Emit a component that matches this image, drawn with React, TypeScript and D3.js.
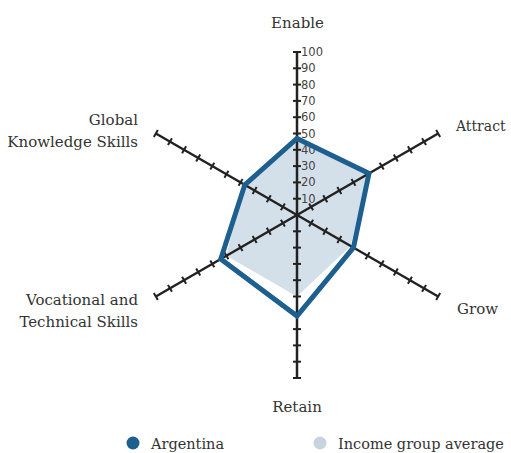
import * as d3 from "d3";
import React, { useEffect, useRef } from "react";

const axesNames = ["Enable", "Attract", "Grow", "Retain", "Vocational and\nTechnical Skills", "Global\nKnowledge Skills"];
const argentina = [47, 51, 40, 62, 54, 37];
const incomeAvg = [49, 50, 38, 50, 50, 38];
const tickValues = [10, 20, 30, 40, 50, 60, 70, 80, 90, 100];
const legendItems = ["Argentina", "Income group average"];

const App = () => {
  const svgRef = useRef<SVGSVGElement>(null);

  useEffect(() => {
    const w = 511;
    const h = 453;
    const cx = 297;
    const cy = 215;
    const R = 163;
    const blue = "#1d5f8e";
    const light = "#d3dfe9";

    const svg = d3.select(svgRef.current).attr("width", w).attr("height", h);
    svg.selectAll("*").remove();

    const r = d3.scaleLinear().domain([0, 100]).range([0, R]);
    const angle = (i: number) => -Math.PI / 2 + (i * Math.PI) / 3;
    const pt = (i: number, v: number): [number, number] => [
      cx + r(v) * Math.cos(angle(i)),
      cy + r(v) * Math.sin(angle(i)),
    ];

    const line = d3.line<[number, number]>().curve(d3.curveLinearClosed);

    // income group polygon
    svg.append("path")
      .attr("d", line(incomeAvg.map((v, i) => pt(i, v))))
      .attr("fill", light)
      .attr("stroke", "none");

    // axes
    const g = svg.append("g");
    axesNames.forEach((_, i) => {
      const [x2, y2] = pt(i, 100);
      g.append("line")
        .attr("x1", cx).attr("y1", cy).attr("x2", x2).attr("y2", y2)
        .attr("stroke", "#222").attr("stroke-width", 2.5);
      const a = angle(i);
      const px = -Math.sin(a), py = Math.cos(a);
      tickValues.forEach(t => {
        const [x, y] = pt(i, t);
        g.append("line")
          .attr("x1", x - px * 4).attr("y1", y - py * 4)
          .attr("x2", x + px * 4).attr("y2", y + py * 4)
          .attr("stroke", "#222").attr("stroke-width", 2);
      });
    });

    // tick labels on Enable axis
    tickValues.forEach(t => {
      const [x, y] = pt(0, t);
      svg.append("text")
        .attr("x", x + 4).attr("y", y + 4)
        .attr("font-family", "DejaVu Sans")
        .attr("font-size", 11.5)
        .attr("fill", "#444")
        .text(t);
    });

    // Argentina outline
    svg.append("path")
      .attr("d", line(argentina.map((v, i) => pt(i, v))))
      .attr("fill", "none")
      .attr("stroke", blue)
      .attr("stroke-width", 5)
      .attr("stroke-linejoin", "miter");

    // axis names
    const labelPos = [
      { x: 297.5, y: 28, anchor: "middle", size: 15 },
      { x: 456, y: 131, anchor: "start", size: 14 },
      { x: 457, y: 314, anchor: "start", size: 15 },
      { x: 297, y: 412, anchor: "middle", size: 15 },
      { x: 138, y: 305, anchor: "end", size: 15 },
      { x: 138, y: 125, anchor: "end", size: 15 },
    ];
    axesNames.forEach((name, i) => {
      const t = svg.append("text")
        .attr("x", labelPos[i].x).attr("y", labelPos[i].y)
        .attr("text-anchor", labelPos[i].anchor)
        .attr("font-family", "DejaVu Serif")
        .attr("font-size", labelPos[i].size)
        .attr("fill", "#333");
      name.split("\n").forEach((s, k) => {
        t.append("tspan").attr("x", labelPos[i].x).attr("dy", k === 0 ? 0 : 22).text(s);
      });
    });

    // legend
    const legX = [133, 320];
    const legColor = [blue, "#c9d3e0"];
    legendItems.forEach((name, i) => {
      svg.append("circle").attr("cx", legX[i]).attr("cy", 443).attr("r", 6.5).attr("fill", legColor[i]);
      svg.append("text")
        .attr("x", legX[i] + 18).attr("y", 449)
        .attr("font-family", "DejaVu Serif")
        .attr("font-size", 14.5)
        .attr("fill", "#333")
        .text(name);
    });
  }, []);

  return <svg ref={svgRef} style={{ position: "absolute", left: 0, top: 0 }} />;
};

export default App;
